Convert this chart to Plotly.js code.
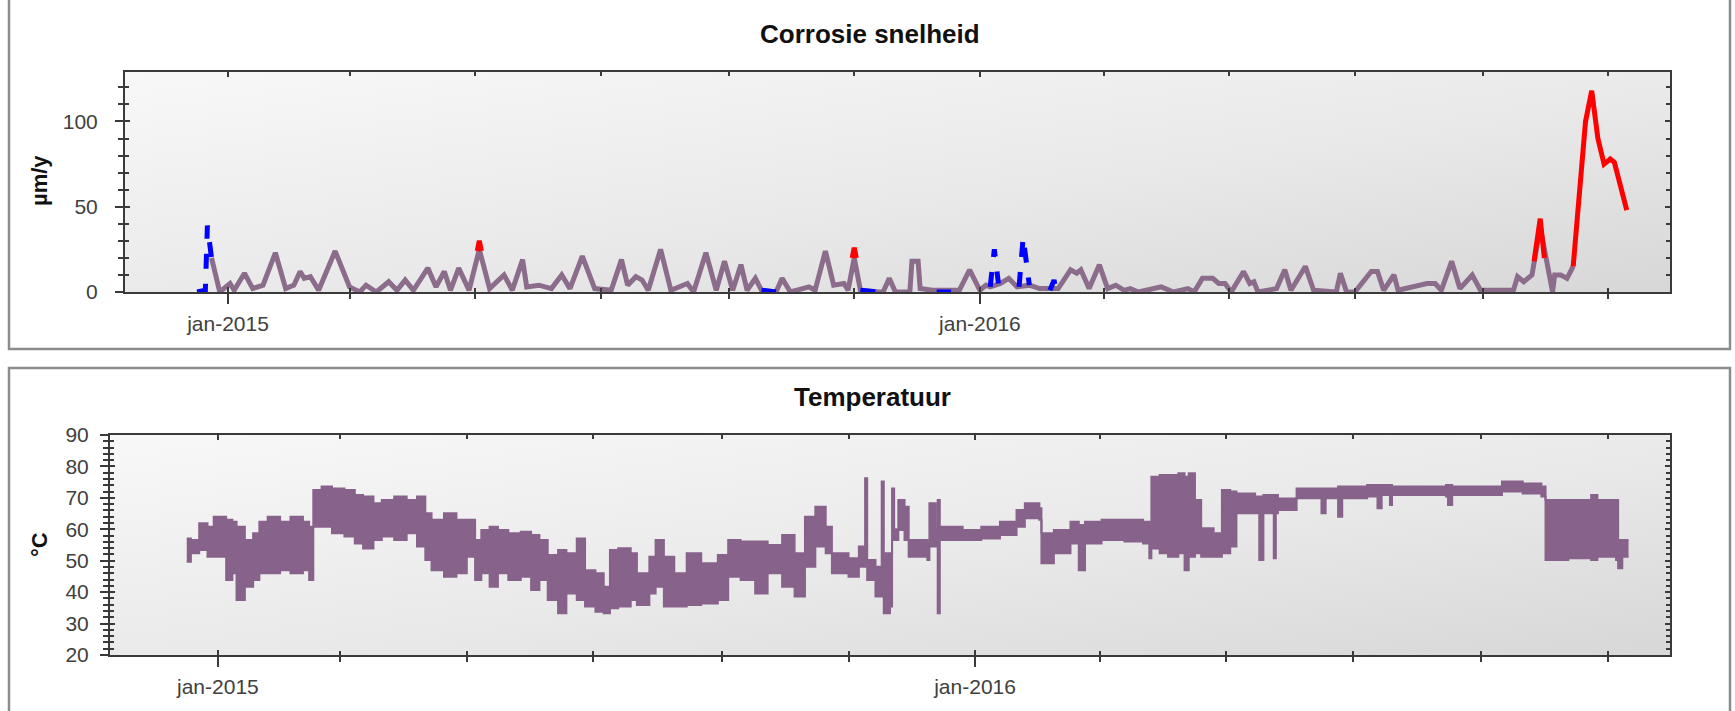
<!DOCTYPE html>
<html>
<head>
<meta charset="utf-8">
<script src="https://cdn.plot.ly/plotly-3.0.1.min.js"></script>
<style>
  html, body { margin:0; padding:0; background:#ffffff; }
  #wrap { position:relative; width:1735px; height:711px; overflow:hidden; }
  .bg { position:absolute; background:linear-gradient(to bottom right, #f8f8f8 0%, #e9e9e9 55%, #d7d7d7 100%); }
  #chart { position:absolute; left:0; top:0; width:1735px; height:711px; }
</style>
</head>
<body>
<div id="wrap">
  <div class="bg" style="left:125px; top:72px; width:1545px; height:220px;"></div>
  <div class="bg" style="left:110px; top:435px; width:1560px; height:220px;"></div>
  <div id="chart"></div>
</div>
<script>
// ---------------- DATA ----------------
const corrDates = [
'2014-12-24','2014-12-28','2015-01-02','2015-01-04','2015-01-09','2015-01-13','2015-01-18','2015-01-24','2015-01-29','2015-02-02',
'2015-02-05','2015-02-07','2015-02-10','2015-02-14','2015-02-22','2015-03-01','2015-03-06','2015-03-09','2015-03-14','2015-03-20',
'2015-03-24','2015-03-28','2015-04-01','2015-04-08','2015-04-12','2015-04-16','2015-04-19','2015-04-23','2015-04-28','2015-05-03',
'2015-05-08','2015-05-15','2015-05-19','2015-05-24','2015-05-26','2015-06-01','2015-06-07','2015-06-12','2015-06-16','2015-06-22',
'2015-06-28','2015-07-06','2015-07-11','2015-07-14','2015-07-18','2015-07-21','2015-07-24','2015-07-30','2015-08-04','2015-08-12',
'2015-08-15','2015-08-21','2015-08-26','2015-08-30','2015-09-03','2015-09-07','2015-09-10','2015-09-14','2015-09-17','2015-09-24',
'2015-09-27','2015-10-01','2015-10-10','2015-10-13','2015-10-18','2015-10-22','2015-10-27','2015-10-29','2015-11-01','2015-11-04',
'2015-11-13','2015-11-15','2015-11-18','2015-11-21','2015-11-28','2015-11-29','2015-12-02','2015-12-03','2015-12-09','2015-12-18',
'2015-12-22','2015-12-27','2016-01-01','2016-01-04','2016-01-06','2016-01-11','2016-01-15','2016-01-19','2016-01-25','2016-01-30',
'2016-02-04','2016-02-08','2016-02-14','2016-02-17','2016-02-19','2016-02-23','2016-02-28','2016-03-03','2016-03-07','2016-03-11',
'2016-03-14','2016-03-18','2016-03-29','2016-04-04','2016-04-11','2016-04-14','2016-04-18','2016-04-23','2016-04-26','2016-04-29',
'2016-05-02','2016-05-08','2016-05-11','2016-05-13','2016-05-15','2016-05-24','2016-05-28','2016-05-31','2016-06-07','2016-06-11',
'2016-06-22','2016-06-24','2016-06-27','2016-07-01','2016-07-09','2016-07-12','2016-07-15','2016-07-20','2016-07-22','2016-08-05',
'2016-08-09','2016-08-12','2016-08-17','2016-08-21','2016-08-27','2016-08-31','2016-09-16','2016-09-18','2016-09-21','2016-09-25',
'2016-09-29','2016-10-02','2016-10-05','2016-10-06','2016-10-09','2016-10-12','2016-10-15'
];
const corrValues = [
20,0,5,1,11,2,4,23,2,4,
12,8,9,1,24,3,0,4,0,6,
1,7,1,14,3,12,1,14,1,25,
2,10,1,19,3,4,2,10,2,21,
2,1,19,4,9,7,1,25,1,5,
0,23,1,18,1,16,1,8,1,0,
8,0,3,1,24,4,5,1,20,1,
0,0,8,0,0,18,18,2,1,1,
1,13,1,4,3,5,8,3,4,2,
2,2,13,11,13,2,16,2,4,1,
2,0,3,0,2,0,8,8,5,5,
0,12,5,6,0,2,13,1,15,1,
0,11,0,0,12,12,1,10,1,5,
5,1,18,2,10,1,1,9,6,10,
38,18,0,10,10,8,15
];

const redDates = [
'2015-05-02','2015-05-03','2015-05-04','2015-05-04',
'2015-10-31','2015-11-01','2015-11-02','2015-11-02',
'2016-09-26','2016-09-29','2016-10-01','2016-10-01',
'2016-10-15','2016-10-21','2016-10-24','2016-10-27','2016-10-30','2016-11-02','2016-11-04','2016-11-10'
];
const redValues = [
24,30,24,null,
20,26,20,null,
18,43,20,null,
15,100,118,90,75,78,76,48
];

const blueDates = [
'2014-12-17','2014-12-21','2014-12-22','2014-12-23','2014-12-24','2014-12-24',
'2015-09-17','2015-09-24','2015-09-24',
'2015-11-04','2015-11-13','2015-11-13',
'2015-12-11','2015-12-18','2015-12-18',
'2016-01-06','2016-01-08','2016-01-10','2016-01-10',
'2016-01-20','2016-01-22','2016-01-25','2016-01-25',
'2016-02-04','2016-02-06','2016-02-07'
];
const blueValues = [
0,1,39,30,20,null,
1,0,null,
1,0,null,
0,0,null,
3,25,5,null,
3,32,4,null,
1,7,1
];

const tempDates = [
'2014-12-17','2014-12-19','2014-12-23','2014-12-27','2014-12-30','2015-01-05','2015-01-08','2015-01-10','2015-01-14','2015-01-18',
'2015-01-21','2015-01-25','2015-01-31','2015-02-05','2015-02-11','2015-02-14','2015-02-16','2015-02-20','2015-02-25','2015-03-03',
'2015-03-08','2015-03-12','2015-03-17','2015-03-21','2015-03-27','2015-04-02','2015-04-07','2015-04-11','2015-04-14','2015-04-20',
'2015-04-26','2015-05-01','2015-05-05','2015-05-08','2015-05-12','2015-05-16','2015-05-21','2015-05-27','2015-06-01','2015-06-05',
'2015-06-09','2015-06-14','2015-06-18','2015-06-23','2015-06-27','2015-07-02','2015-07-06','2015-07-09','2015-07-13','2015-07-19',
'2015-07-22','2015-07-28','2015-07-31','2015-08-04','2015-08-09','2015-08-15','2015-08-22','2015-08-30','2015-09-04','2015-09-10',
'2015-09-17','2015-09-23','2015-09-30','2015-10-06','2015-10-11','2015-10-16','2015-10-21','2015-10-24','2015-11-01','2015-11-06',
'2015-11-09','2015-11-10','2015-11-14','2015-11-17','2015-11-18','2015-11-21','2015-11-22','2015-11-23','2015-11-25','2015-11-28',
'2015-11-30','2015-12-09','2015-12-10','2015-12-13','2015-12-14','2015-12-15','2015-12-26','2016-01-04','2016-01-13','2016-01-21',
'2016-01-25','2016-02-01','2016-02-02','2016-02-08','2016-02-16','2016-02-20','2016-02-23','2016-03-02','2016-03-13','2016-03-22',
'2016-03-25','2016-03-26','2016-03-30','2016-04-03','2016-04-08','2016-04-11','2016-04-13','2016-04-16','2016-04-19','2016-04-25',
'2016-04-29','2016-05-03','2016-05-06','2016-05-15','2016-05-17','2016-05-19','2016-05-24','2016-05-25','2016-05-26','2016-06-04',
'2016-06-16','2016-06-18','2016-06-24','2016-06-26','2016-07-08','2016-07-13','2016-07-15','2016-07-19','2016-07-20','2016-08-15',
'2016-08-16','2016-08-18','2016-09-11','2016-09-21','2016-09-30','2016-10-02','2016-10-13','2016-10-24','2016-10-27','2016-11-05',
'2016-11-06','2016-11-08','2016-11-11'
];
const tempUpper = [
57.1,56.6,61.9,60.8,64,63,62.4,60.8,56.6,58.7,
62.4,64,62.4,64,62.4,60.8,72.5,73.6,73,72.5,
70.9,70.4,68.3,69.3,70.4,69.3,70.4,65.1,63,65.1,
63,63,56.6,59.8,60.8,59.8,58.7,59.2,58.2,56.6,
51.8,53.4,52.4,57.1,47,46,41.7,53.4,54,52.4,
46,51.3,56.6,51.3,46,52.4,49.2,51.8,56.6,56.1,
56.1,55,58.2,52.4,64,67.2,60.8,52.4,50.8,54.5,
76.2,50.2,48.1,75.2,52.4,52.4,73,60,69.3,67.2,
56.6,55.5,68.3,59.8,69.3,60.8,59.8,60.8,62.4,66.1,
68.3,66.7,58.7,59.8,62.4,61.4,62.4,63,63,62.4,
60.8,76.7,77.3,77.3,77.8,76.7,77.8,69.3,60.3,58.7,
72.5,72,71.4,70.4,70.4,70.9,70.9,70.9,69.8,73,
73,73,73.6,73.6,74.1,74.1,74.1,74.1,73.6,74.1,
74.1,73.6,75.2,74.6,73.6,69.3,69.3,70.9,69.3,69.3,
56.6,56.6,56.6
];
const tempLower = [
49.7,52.4,53.4,51.3,51.3,43.9,46,37.5,41.7,43.9,
46,46,47,46,47,43.9,60.8,60.8,58.7,57.7,
55.5,53.9,56.6,57.7,56.6,58.7,54.5,50.2,47,44.9,
46,51.3,43.9,46,41.7,46,43.9,44.9,40.7,43.9,
37.5,33.3,39.6,37.5,35.4,33.8,33.3,34.9,35.4,37.5,
35.9,39.6,41.7,35.4,35.4,35.9,36.4,37.5,44.9,43.9,
39.6,46,41.7,38.6,48.1,54.5,52.4,46,44.9,48.1,
48.1,43.9,38.6,38.6,33.3,35.4,56.6,56.6,59.8,56.6,
51.3,50.2,54.5,54.5,33.3,56.6,56.6,57.1,58.2,60.8,
63.5,63,49.2,52.4,55.5,47,55.5,56.6,56.1,55.5,
50.8,53.9,52.4,51.3,52.4,47,51.3,52.4,51.3,51.3,
52.4,54.5,65.1,65.1,50.2,65.1,50.8,65.1,66.1,69.9,
65.1,69.9,64,69.9,70.4,66.7,70.9,67.7,70.9,70.4,
67.7,70.9,72,71.4,70.4,50.2,50.8,50.2,51.3,50.2,
47.6,51.3,51.3
];

const xTickDates  = ['2015-01-01','2016-01-01'];
const xTickLabels = ['jan-2015','jan-2016'];
const xMinorDates = ['2014-11-01','2015-03-01','2015-05-01','2015-07-01','2015-09-01','2015-11-01',
                     '2016-03-01','2016-05-01','2016-07-01','2016-09-01','2016-11-01'];
const corrTicks = [0,50,100];
const tempTicks = [20,30,40,50,60,70,80,90];

// ---------------- LAYOUT ----------------
const W = 1735, H = 711;
const px = v => v / W;
const py = v => 1 - v / H;
const FONT = 'Arial, "Liberation Sans", sans-serif';
const AXC = '#3a3a3a';
const PURPLE = '#8b6d8b';
const TEMPC = '#87628a';

const range1 = ['2014-11-12','2016-12-01'];
const range2 = ['2014-11-10','2016-12-01'];

function mainX(domain, range, anchor) {
  return {
    domain: domain, anchor: anchor, type: 'date', range: range,
    showline: true, mirror: true, linecolor: AXC, linewidth: 2,
    ticks: 'outside', ticklen: 10, tickwidth: 2, tickcolor: AXC,
    tickmode: 'array', tickvals: xTickDates, ticktext: xTickLabels,
    tickfont: {family: FONT, size: 21, color: '#404040'},
    ticklabelstandoff: 2,
    minor: {tickmode: 'array', tickvals: xMinorDates, ticks: 'outside', ticklen: 5, tickwidth: 2, tickcolor: AXC, showgrid: false},
    showgrid: false, zeroline: false, fixedrange: true
  };
}
function overX(over, range, anchor) {
  return {
    overlaying: over, anchor: anchor, type: 'date', range: range,
    showline: false, ticks: 'inside', ticklen: 5, tickwidth: 2, tickcolor: AXC, mirror: 'ticks',
    tickmode: 'array', tickvals: xTickDates, showticklabels: false,
    minor: {tickmode: 'array', tickvals: xMinorDates, ticks: 'inside', ticklen: 4, tickwidth: 2, tickcolor: AXC, showgrid: false},
    showgrid: false, zeroline: false, fixedrange: true
  };
}
function mainY(domain, range, anchor, ticks, minorDtick, standoff) {
  return {
    domain: domain, anchor: anchor, range: range,
    showline: true, mirror: true, linecolor: AXC, linewidth: 2,
    ticks: 'outside', ticklen: 8, tickwidth: 2, tickcolor: AXC,
    tickmode: 'array', tickvals: ticks,
    tickfont: {family: FONT, size: 21, color: '#404040'},
    ticklabelstandoff: standoff,
    minor: {dtick: minorDtick, ticks: 'outside', ticklen: 5, tickwidth: 2, tickcolor: AXC, showgrid: false},
    showgrid: false, zeroline: false, fixedrange: true
  };
}
function overY(over, range, anchor, ticks, minorDtick) {
  return {
    overlaying: over, anchor: anchor, range: range,
    showline: false, ticks: 'inside', ticklen: 5, tickwidth: 2, tickcolor: AXC, mirror: 'ticks',
    tickmode: 'array', tickvals: ticks, showticklabels: false,
    minor: {dtick: minorDtick, ticks: 'inside', ticklen: 4, tickwidth: 2, tickcolor: AXC, showgrid: false},
    showgrid: false, zeroline: false, fixedrange: true
  };
}

const traces = [
  {type:'scatter', mode:'lines', x: corrDates, y: corrValues, xaxis:'x', yaxis:'y',
   line:{color: PURPLE, width: 5}, hoverinfo:'skip', showlegend:false},
  {type:'scatter', mode:'lines', x: blueDates, y: blueValues, xaxis:'x', yaxis:'y', connectgaps:false,
   line:{color:'#0000ff', width: 5, dash:'dash'}, hoverinfo:'skip', showlegend:false},
  {type:'scatter', mode:'lines', x: redDates, y: redValues, xaxis:'x', yaxis:'y', connectgaps:false,
   line:{color:'#ff0000', width: 5}, hoverinfo:'skip', showlegend:false},
  {type:'scatter', mode:'lines', x: [], y: [], xaxis:'x3', yaxis:'y3', hoverinfo:'skip', showlegend:false},
  {type:'scatter', mode:'lines', x: tempDates, y: tempLower, xaxis:'x2', yaxis:'y2',
   line:{color: TEMPC, width: 2, shape:'hv'}, hoverinfo:'skip', showlegend:false},
  {type:'scatter', mode:'lines', x: tempDates, y: tempUpper, xaxis:'x2', yaxis:'y2',
   fill:'tonexty', fillcolor: TEMPC, line:{color: TEMPC, width: 2, shape:'hv'}, hoverinfo:'skip', showlegend:false},
  {type:'scatter', mode:'lines', x: [], y: [], xaxis:'x4', yaxis:'y4', hoverinfo:'skip', showlegend:false}
];

const layout = {
  width: W, height: H,
  margin: {l:0, r:0, t:0, b:0},
  paper_bgcolor: 'rgba(0,0,0,0)', plot_bgcolor: 'rgba(0,0,0,0)',
  showlegend: false,
  xaxis:  mainX([px(125), px(1670)], range1, 'y'),
  yaxis:  mainY([py(292), py(72)], [0, 129], 'x', corrTicks, 10, 13),
  xaxis3: overX('x', range1, 'y3'),
  yaxis3: overY('y', [0, 129], 'x3', corrTicks, 10),
  xaxis2: mainX([px(110), px(1670)], range2, 'y2'),
  yaxis2: mainY([py(655), py(435)], [20, 90], 'x2', tempTicks, 2, 7),
  xaxis4: overX('x2', range2, 'y4'),
  yaxis4: overY('y2', [20, 90], 'x4', tempTicks, 2),
  shapes: [
    {type:'rect', xref:'paper', yref:'paper', x0:px(9), x1:px(1730), y0:py(349), y1:py(-6),
     line:{color:'#8c8c8c', width:2.5}, fillcolor:'rgba(0,0,0,0)'},
    {type:'rect', xref:'paper', yref:'paper', x0:px(9), x1:px(1730), y0:py(720), y1:py(368),
     line:{color:'#8c8c8c', width:2.5}, fillcolor:'rgba(0,0,0,0)'}
  ],
  annotations: [
    {text:'Corrosie snelheid', xref:'paper', yref:'paper', x:px(870), y:py(34), xanchor:'center', yanchor:'middle',
     showarrow:false, font:{family:FONT, size:26, color:'#111', weight:'bold'}},
    {text:'Temperatuur', xref:'paper', yref:'paper', x:px(872), y:py(397), xanchor:'center', yanchor:'middle',
     showarrow:false, font:{family:FONT, size:26, color:'#111', weight:'bold'}},
    {text:'µm/y', xref:'paper', yref:'paper', x:px(39), y:py(181), xanchor:'center', yanchor:'middle', textangle:-90,
     showarrow:false, font:{family:FONT, size:22, color:'#111', weight:'bold'}},
    {text:'°C', xref:'paper', yref:'paper', x:px(39), y:py(545), xanchor:'center', yanchor:'middle', textangle:-90,
     showarrow:false, font:{family:FONT, size:22, color:'#111', weight:'bold'}}
  ]
};

Plotly.newPlot('chart', traces, layout, {staticPlot: true, displayModeBar: false});
</script>
</body>
</html>
